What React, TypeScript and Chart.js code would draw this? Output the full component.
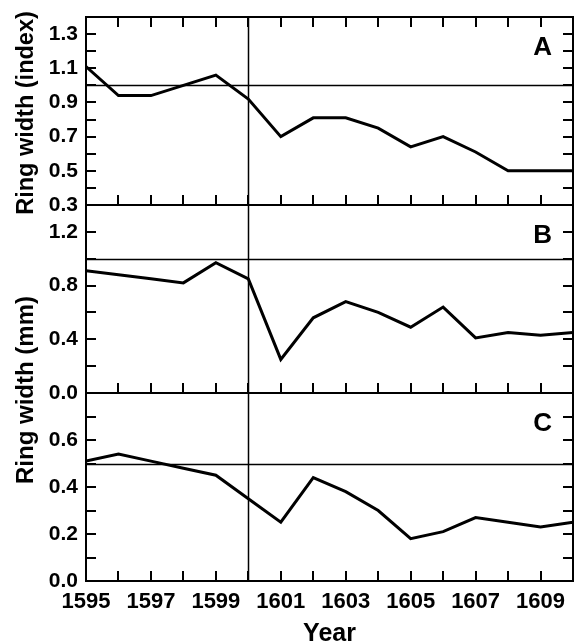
import React, { useEffect, useRef } from 'react';
import { Chart, registerables } from 'chart.js';
Chart.register(...registerables);

const years = [1595, 1596, 1597, 1598, 1599, 1600, 1601, 1602, 1603, 1604, 1605, 1606, 1607, 1608, 1609, 1610];
const ringIndexA = [1.11, 0.94, 0.94, 1.0, 1.06, 0.92, 0.70, 0.81, 0.81, 0.75, 0.64, 0.70, 0.61, 0.50, 0.50, 0.50];
const ringMmB = [0.91, 0.88, 0.85, 0.82, 0.97, 0.85, 0.25, 0.56, 0.68, 0.60, 0.49, 0.64, 0.41, 0.45, 0.43, 0.45];
const ringMmC = [0.51, 0.54, 0.51, 0.48, 0.45, 0.35, 0.25, 0.44, 0.38, 0.30, 0.18, 0.21, 0.27, 0.25, 0.23, 0.25];

const refA = 1.0;
const refB = 1.0;
const refC = 0.5;
const eventYear = 1600;
const panelLetters = ['A', 'B', 'C'];
const yTitleIndex = 'Ring width (index)';
const yTitleMm = 'Ring width (mm)';
const xTitle = 'Year';

const FONT = "'Liberation Sans', Arial, sans-serif";

export default function App() {
  const ref = useRef<HTMLCanvasElement | null>(null);
  useEffect(() => {
    const canvas = ref.current!;
    const toPts = (arr: number[]) => years.map((y, i) => ({ x: y, y: arr[i] }));

    const framePlugin = {
      id: 'frame',
      afterDatasetsDraw(chart: any) {
        const ctx = chart.ctx as CanvasRenderingContext2D;
        const area = chart.chartArea;
        const x = chart.scales.x;
        const panels = [chart.scales.yA, chart.scales.yB, chart.scales.yC];
        const refs = [refA, refB, refC];
        ctx.save();
        ctx.strokeStyle = '#000';
        // reference lines
        ctx.lineWidth = 1.5;
        panels.forEach((s: any, i: number) => {
          const py = Math.round(s.getPixelForValue(refs[i])) + 0.5;
          ctx.beginPath();
          ctx.moveTo(area.left, py);
          ctx.lineTo(area.right, py);
          ctx.stroke();
        });
        const vx = Math.round(x.getPixelForValue(eventYear)) + 0.5;
        ctx.beginPath();
        ctx.moveTo(vx, area.top);
        ctx.lineTo(vx, area.bottom);
        ctx.stroke();
        // borders and ticks
        ctx.lineWidth = 2;
        const TL = 10;
        panels.forEach((s: any, i: number) => {
          ctx.strokeRect(area.left, s.top, area.right - area.left, s.bottom - s.top);
          ctx.beginPath();
          s.ticks.forEach((t: any) => {
            if (t.value <= s.min + 1e-9 || t.value >= s.max - 1e-9) return;
            const py = Math.round(s.getPixelForValue(t.value));
            ctx.moveTo(area.left, py);
            ctx.lineTo(area.left + TL, py);
            ctx.moveTo(area.right, py);
            ctx.lineTo(area.right - TL, py);
          });
          x.ticks.forEach((t: any) => {
            if (t.value <= x.min || t.value >= x.max) return;
            const px = Math.round(x.getPixelForValue(t.value));
            ctx.moveTo(px, s.bottom);
            ctx.lineTo(px, s.bottom - TL);
            if (i === 0) {
              ctx.moveTo(px, s.top);
              ctx.lineTo(px, s.top + TL);
            }
          });
          ctx.stroke();
        });
        // panel letters
        ctx.fillStyle = '#000';
        ctx.font = `bold 26px ${FONT}`;
        ctx.textAlign = 'right';
        ctx.textBaseline = 'middle';
        panels.forEach((s: any, i: number) => {
          ctx.fillText(panelLetters[i], area.right - 21, s.top + 31);
        });
        // titles
        ctx.textAlign = 'center';
        ctx.textBaseline = 'alphabetic';
        const drawV = (text: string, cy: number, size: number) => {
          ctx.save();
          ctx.font = `bold ${size}px ${FONT}`;
          ctx.translate(33, cy);
          ctx.rotate(-Math.PI / 2);
          ctx.fillText(text, 0, 0);
          ctx.restore();
        };
        drawV(yTitleIndex, (panels[0].top + panels[0].bottom) / 2 + 2, 23.5);
        drawV(yTitleMm, panels[1].bottom - 3, 24);
        ctx.font = `bold 25px ${FONT}`;
        ctx.fillText(xTitle, (area.left + area.right) / 2, 641);
        ctx.restore();
      },
    };

    const yTickFont = { family: FONT, size: 21, weight: 'bold' as const };
    const xTickFont = { family: FONT, size: 22, weight: 'bold' as const };
    const yBase = (min: number, max: number, step: number, show: (v: number) => boolean, weight: number) => ({
      type: 'linear' as const,
      position: 'left' as const,
      stack: 'panels',
      stackWeight: 1,
      weight,
      min,
      max,
      grid: { display: false, drawTicks: false },
      border: { display: false },
      ticks: {
        stepSize: step,
        autoSkip: false,
        padding: 8,
        color: '#000',
        font: yTickFont,
        callback: (v: any) => (show(Number(v)) ? Number(v).toFixed(1) : ''),
      },
      afterFit: (s: any) => {
        s.width = 86;
        s.paddingTop = 0;
        s.paddingBottom = 0;
      },
    });

    const lineDs = (data: number[], axis: string) => ({
      data: toPts(data),
      yAxisID: axis,
      borderColor: '#000',
      borderWidth: 3,
      pointRadius: 0,
      tension: 0,
      fill: false,
    });

    const chart = new Chart(canvas, {
      type: 'line',
      data: {
        datasets: [lineDs(ringIndexA, 'yA'), lineDs(ringMmB, 'yB'), lineDs(ringMmC, 'yC')],
      },
      options: {
        responsive: false,
        animation: false,
        layout: { padding: { top: 17, right: 2, left: 0, bottom: 0 } },
        plugins: { legend: { display: false }, tooltip: { enabled: false }, title: { display: false } },
        scales: {
          x: {
            type: 'linear',
            position: 'bottom',
            min: 1595,
            max: 1610,
            grid: { display: false, drawTicks: false },
            border: { display: false },
            ticks: {
              stepSize: 1,
              autoSkip: false,
              maxRotation: 0,
              padding: 8,
              color: '#000',
              font: xTickFont,
              callback: (v: any) => ((Number(v) - 1595) % 2 === 0 && Number(v) < 1610 ? String(v) : ''),
            },
            afterFit: (s: any) => {
              s.height = 62;
              s.paddingLeft = 0;
              s.paddingRight = 0;
            },
          },
          yC: yBase(0, 0.8, 0.1, (v) => Math.round(v * 10) % 2 === 0 && v < 0.75, 1),
          yB: yBase(0, 1.4, 0.2, (v) => Math.round(v * 10) % 4 === 0, 2),
          yA: yBase(0.3, 1.4, 0.1, (v) => Math.round(v * 10) % 2 === 1, 3),
        } as any,
      },
      plugins: [framePlugin],
    });
    return () => chart.destroy();
  }, []);

  return (
    <div style={{ position: 'absolute', left: 0, top: 0, width: 575, height: 643, background: '#fff' }}>
      <canvas ref={ref} width={575} height={643} style={{ display: 'block' }} />
    </div>
  );
}
